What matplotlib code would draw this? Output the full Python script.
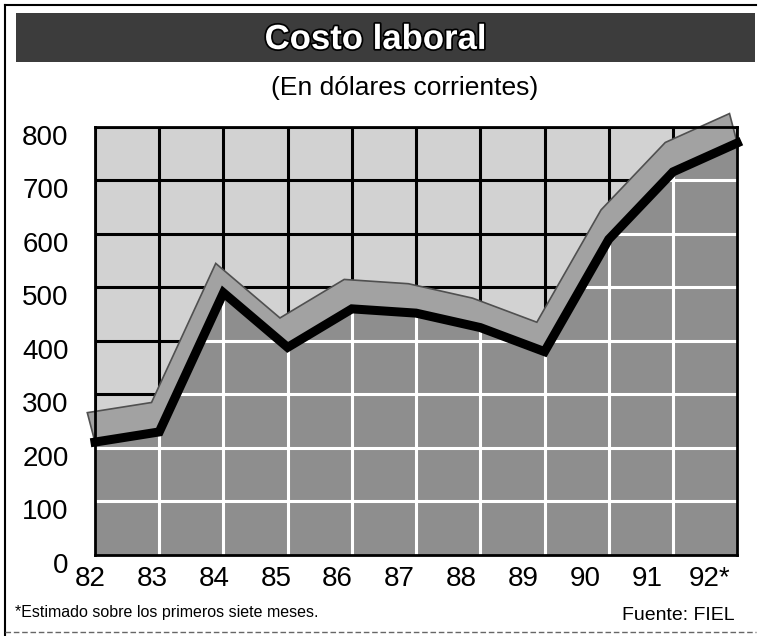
import matplotlib
matplotlib.use("Agg")
import matplotlib.pyplot as plt
import matplotlib.transforms as mtransforms
from matplotlib.lines import Line2D
from matplotlib.patches import Rectangle, Polygon
import matplotlib.patheffects as pe

plt.rcParams['font.family'] = ['Liberation Sans', 'DejaVu Sans']

# Datos (dolares corrientes)
years = [82, 83, 84, 85, 86, 87, 88, 89, 90, 91, 92]
year_labels = ["82", "83", "84", "85", "86", "87", "88", "89", "90", "91", "92*"]
costo = [211, 230, 490, 388, 460, 452, 425, 380, 590, 716, 770]
y_ticks = [0, 100, 200, 300, 400, 500, 600, 700, 800]

title = "Costo laboral"
subtitle = "(En dólares corrientes)"
note = "*Estimado sobre los primeros siete meses."
source = "Fuente: FIEL"

fig = plt.figure(figsize=(7.6, 6.36), dpi=100)
ax = fig.add_axes([0.125, 0.1274, 0.845, 0.673])

light = "#d2d2d2"
dark = "#8e8e8e"
ribbon = "#a2a2a2"

ax.set_facecolor(light)
ax.set_xlim(82, 92)
ax.set_ylim(0, 800)
ax.set_xticks(years)
ax.set_xticklabels(year_labels)
ax.set_yticks(y_ticks)

# reticula negra (zona superior)
ax.grid(True, color="black", linewidth=2.2, zorder=1)
ax.set_axisbelow(True)

# area bajo la curva
area = ax.fill_between(years, 0, costo, color=dark, linewidth=0, zorder=2)
clip = area.get_paths()[0]

# reticula blanca dentro del area
for yv in y_ticks[1:-1]:
    ln = ax.axhline(yv, color="white", linewidth=2.2, zorder=3)
    ln.set_clip_path(clip, ax.transData)
for xv in years[1:-1]:
    ln = ax.axvline(xv, color="white", linewidth=2.2, zorder=3)
    ln.set_clip_path(clip, ax.transData)

# cinta en perspectiva detras de la linea
dx, dy = 0.12, 55
front = list(zip(years, costo))
back = [(x - dx, v + dy) for x, v in zip(years, costo)][::-1]
band = Polygon(front + back, closed=True, facecolor=ribbon, edgecolor="#505050",
               linewidth=1.2, zorder=4, clip_on=False)
ax.add_patch(band)

ax.plot(years, costo, color="black", linewidth=6.5, solid_joinstyle="miter", zorder=5, clip_on=False)

for s in ax.spines.values():
    s.set_linewidth(2)
    s.set_zorder(6)

ax.tick_params(length=0, labelsize=20)
ax.tick_params(axis="x", pad=8)
ax.tick_params(axis="y", pad=19)

# desplazamientos de las etiquetas como en el original
for i, lab in enumerate(ax.get_xticklabels()):
    lab.set_transform(lab.get_transform() + mtransforms.ScaledTranslation(-(5 + 2.3 * i) / 100, 0, fig.dpi_scale_trans))
for lab in ax.get_yticklabels():
    lab.set_transform(lab.get_transform() + mtransforms.ScaledTranslation(0, -8 / 100, fig.dpi_scale_trans))

# banda del titulo
fig.patches.append(Rectangle((0.021, 0.9025), 0.972, 0.077, transform=fig.transFigure,
                             facecolor="#3c3c3c", edgecolor="none"))
fig.text(0.494, 0.938, title, ha="center", va="center", fontsize=25, fontweight="bold",
         color="white", path_effects=[pe.withStroke(linewidth=2.5, foreground="black")])
fig.text(0.533, 0.861, subtitle, ha="center", va="center", fontsize=19)

fig.text(0.02, 0.037, note, ha="left", va="center", fontsize=11.5)
fig.text(0.966, 0.033, source, ha="right", va="center", fontsize=14)

# marco
fig.add_artist(Line2D([0.007, 0.007], [0.0, 0.992], color="black", linewidth=1.5, transform=fig.transFigure))
fig.add_artist(Line2D([0.007, 0.995], [0.992, 0.992], color="black", linewidth=1.5, transform=fig.transFigure))
fig.add_artist(Line2D([0.007, 0.995], [0.006, 0.006], color="#666666", linewidth=1, linestyle=(0, (4, 2)),
                      transform=fig.transFigure))

fig.savefig("out.png", dpi=100)
